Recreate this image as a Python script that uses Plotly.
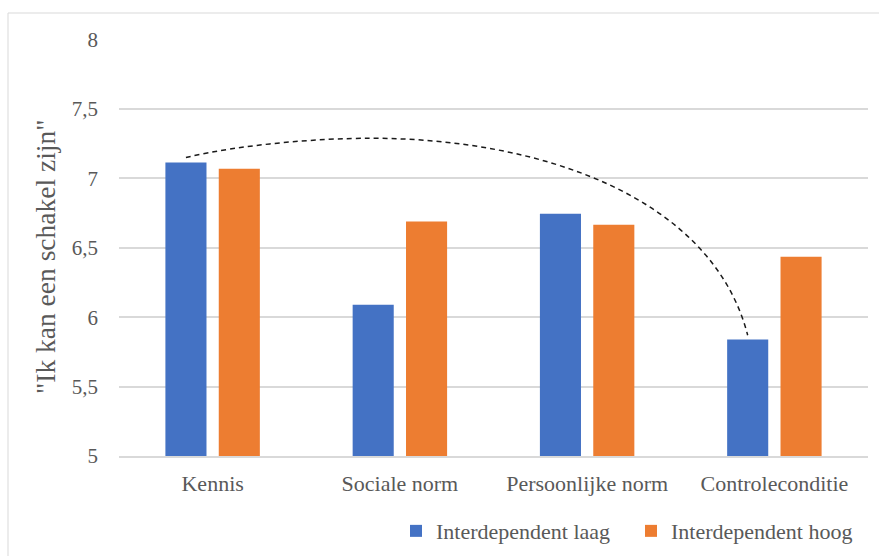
import plotly.graph_objects as go

# Categories and mean scores per condition
categories = ["Kennis", "Sociale norm", "Persoonlijke norm", "Controleconditie"]
laag = [7.115, 6.09, 6.745, 5.84]
hoog = [7.07, 6.69, 6.665, 6.435]
series_names = ["Interdependent laag", "Interdependent hoog"]
y_ticks = [5, 5.5, 6, 6.5, 7, 7.5, 8]
y_ticktext = ["5", "5,5", "6", "6,5", "7", "7,5", "8"]

BLUE = "#4472C4"
ORANGE = "#ED7D31"
FONT = "Liberation Serif"
GREY = "#595959"

x_pos = list(range(len(categories)))
BARGAP = 0.43
slot = (1 - BARGAP) / 2          # width of one series slot in category units
blue_off = -slot / 2              # centre offset of the first series

fig = go.Figure()
fig.add_trace(go.Bar(x=x_pos, y=laag, name=series_names[0], marker_color=BLUE,
                     marker_line_width=0))
fig.add_trace(go.Bar(x=x_pos, y=hoog, name=series_names[1], marker_color=ORANGE,
                     marker_line_width=0))

# Dashed curve from the first "laag" bar to the last "laag" bar
x0, y0 = x_pos[0] + blue_off, laag[0] + 0.035
x3, y3 = x_pos[-1] + blue_off, laag[-1] + 0.03
peak_x, peak_y = 0.84, 7.289
path = (f"M {x0},{y0} C 0.146,7.245 0.574,{peak_y} {peak_x},{peak_y} "
        f"C 1.748,{peak_y} 2.666,6.87 {x3},{y3}")
fig.add_shape(type="path", path=path, xref="x", yref="y",
              line=dict(color="#1a1a1a", width=1.5, dash="5px,4px"))

# Light frame around the chart area
fig.add_shape(type="rect", xref="paper", yref="paper",
              x0=(8 - 119) / 749, x1=1.1, y0=-0.5, y1=(456 - 13) / 417,
              line=dict(color="#d9d9d9", width=1), layer="below")

fig.add_annotation(text='"Ik kan een schakel zijn"', textangle=-90,
                   xref="paper", yref="paper", x=(45 - 119) / 749, y=(456 - 257) / 417,
                   xanchor="center", yanchor="middle", showarrow=False,
                   font=dict(family=FONT, size=27.5, color=GREY))

fig.update_layout(
    width=879, height=556,
    margin=dict(l=119, r=11, t=39, b=100, autoexpand=False),
    paper_bgcolor="white", plot_bgcolor="white",
    barmode="group", bargap=BARGAP, bargroupgap=0.23,
    font=dict(family=FONT, size=22, color=GREY),
    showlegend=True,
    legend=dict(orientation="h", x=(396 - 119) / 749, y=-0.18, xanchor="left",
                yanchor="middle", font=dict(family=FONT, size=22, color=GREY),
                itemwidth=30, entrywidth=190, entrywidthmode="pixels"),
    xaxis=dict(tickmode="array", tickvals=x_pos, ticktext=categories,
               range=[-0.5, len(categories) - 0.5], showgrid=False, zeroline=False,
               showline=True, linecolor="#d9d9d9", linewidth=1.5,
               ticks="", ticklabelstandoff=7,
               tickfont=dict(family=FONT, size=22, color=GREY)),
    yaxis=dict(range=[5, 8.004], tickmode="array", tickvals=y_ticks, ticktext=y_ticktext,
               showgrid=True, gridcolor="#d9d9d9", gridwidth=1.5, zeroline=False,
               showline=False, ticks="", ticklabelstandoff=20,
               tickfont=dict(family=FONT, size=21, color=GREY)),
)

fig.write_html("out.html")
